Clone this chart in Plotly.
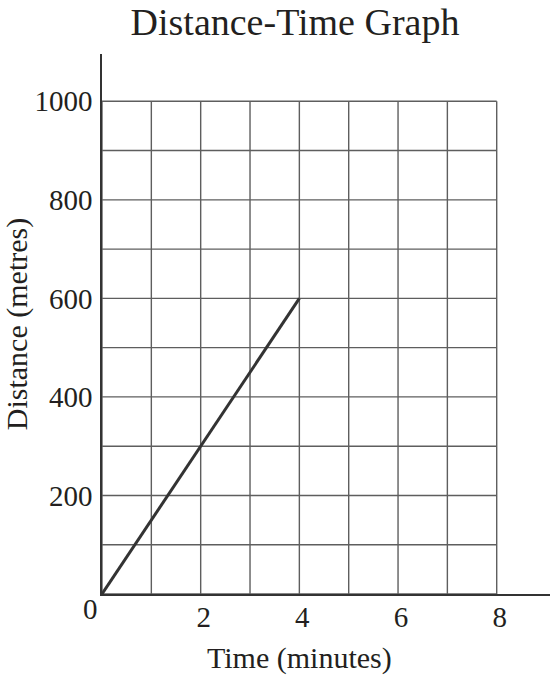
import plotly.graph_objects as go

# Data
time_minutes = [0, 4]
distance_metres = [0, 600]

# Tick labels
x_tick_vals = [2, 4, 6, 8]
y_tick_vals = [200, 400, 600, 800, 1000]

# Grid positions
grid_x = list(range(0, 9))
grid_y = list(range(0, 1001, 100))

X_MAX = 9.08
Y_MAX = 1096

FONT = "Liberation Serif"
INK = "#231f20"
GRID = "#5e5e5e"

W, H = 550, 678

gx, gy = [], []
for x in grid_x:
    gx += [x, x, None]
    gy += [grid_y[0], grid_y[-1], None]
for y in grid_y:
    gx += [grid_x[0], grid_x[-1], None]
    gy += [y, y, None]

fig = go.Figure()
fig.add_trace(go.Scatter(x=gx, y=gy, mode="lines",
                         line=dict(color=GRID, width=1.4),
                         hoverinfo="skip", showlegend=False))
fig.add_trace(go.Scatter(x=time_minutes, y=distance_metres, mode="lines",
                         line=dict(color="#333333", width=3),
                         showlegend=False, cliponaxis=False))

fig.update_layout(
    width=W, height=H,
    margin=dict(l=102, r=0, t=54, b=84),
    paper_bgcolor="white", plot_bgcolor="white",
    font=dict(family=FONT, color=INK, size=29),
    title=dict(text="Distance-Time Graph", x=295 / W, xanchor="center",
               y=1 - 22 / H, yanchor="middle", yref="container",
               font=dict(family=FONT, size=38, color=INK)),
    showlegend=False,
)

fig.update_xaxes(
    range=[0, X_MAX], showgrid=False, zeroline=False, automargin=False,
    showline=True, linecolor="#333333", linewidth=1.5,
    tickmode="array", tickvals=x_tick_vals, ticks="",
    ticklabelstandoff=-4, ticklabelshift=3,
    tickfont=dict(family=FONT, size=29, color=INK),
)
fig.update_yaxes(
    range=[0, Y_MAX], showgrid=False, zeroline=False, automargin=False,
    showline=True, linecolor="#333333", linewidth=1.5,
    tickmode="array", tickvals=y_tick_vals, ticks="",
    ticklabelstandoff=2,
    tickfont=dict(family=FONT, size=29, color=INK),
    title=dict(text="Distance (metres)", standoff=10,
               font=dict(family=FONT, size=30, color=INK)),
)

# x-axis title centred under the gridded region
fig.add_annotation(x=(grid_x[0] + grid_x[-1]) / 2, y=0, xref="x", yref="y",
                   text="Time (minutes)", showarrow=False,
                   xanchor="center", yanchor="middle", yshift=-64,
                   font=dict(family=FONT, size=30, color=INK))

fig.add_annotation(x=0, y=0, xref="x", yref="y", text="0", showarrow=False,
                   xanchor="center", yanchor="middle", xshift=-12, yshift=-15,
                   font=dict(family=FONT, size=29, color=INK))

fig.write_html(
    "out.html",
    config={"displayModeBar": False},
    post_script="document.body.style.margin='0';document.body.style.overflow='hidden';",
)
